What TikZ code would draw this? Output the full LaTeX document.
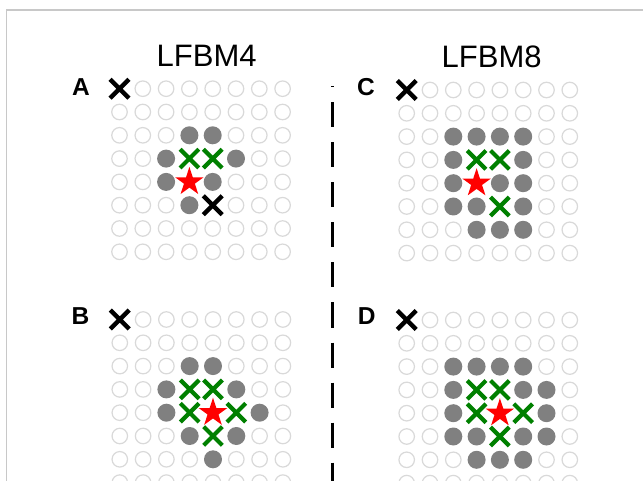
\documentclass[tikz,border=0pt]{standalone}
\usepackage{fontspec}
\setmainfont{Liberation Sans}
\usetikzlibrary{shapes.geometric,shapes.misc}
\definecolor{dotgray}{RGB}{128,128,128}
\definecolor{ringgray}{RGB}{217,217,217}
\definecolor{xgreen}{RGB}{0,128,0}
\definecolor{framegray}{RGB}{200,200,200}
\newcommand\setcells[3]{\foreach \rr/\cc in {#3}{\expandafter\xdef\csname cell-#1-\rr-\cc\endcsname{#2}}}
\newcommand\drawpanel[3]{%
  \foreach \row in {0,...,7}{%
    \foreach \col in {0,...,7}{%
      \ifcsname cell-#1-\row-\col\endcsname
        \edef\cellsty{\csname cell-#1-\row-\col\endcsname}%
      \else
        \def\cellsty{emptydot}%
      \fi
      \node[cellkind=\cellsty] (#1-\row-\col) at ({#2+\col*23.3},{#3+\row*23.3}) {};
    }}}
\setcells{A}{blackx}{0/0,5/4}
\setcells{A}{filldot}{2/3,2/4,3/2,3/5,4/2,4/4,5/3}
\setcells{A}{greenx}{3/3,3/4}
\setcells{A}{redstar}{4/3}
\setcells{B}{blackx}{0/0}
\setcells{B}{filldot}{2/3,2/4,3/2,3/5,4/2,4/6,5/3,5/5,6/4}
\setcells{B}{greenx}{3/3,3/4,4/3,4/5,5/4}
\setcells{B}{redstar}{4/4}
\setcells{C}{blackx}{0/0}
\setcells{C}{filldot}{2/2,2/3,2/4,2/5,3/2,3/5,4/2,4/4,4/5,5/2,5/3,5/5,6/3,6/4,6/5}
\setcells{C}{greenx}{3/3,3/4,5/4}
\setcells{C}{redstar}{4/3}
\setcells{D}{blackx}{0/0}
\setcells{D}{filldot}{2/2,2/3,2/4,2/5,3/2,3/5,3/6,4/2,4/6,5/2,5/3,5/5,5/6,6/3,6/4,6/5}
\setcells{D}{greenx}{3/3,3/4,4/3,4/5,5/4}
\setcells{D}{redstar}{4/4}
\tikzset{
  cellkind/.code={\edef\tmpkind{#1}\expandafter\pgfkeysalso\expandafter{\tmpkind}},
  emptydot/.style={circle, draw=ringgray, line width=1.2pt, minimum size=15.5pt, inner sep=0pt},
  filldot/.style={circle, fill=dotgray, minimum size=18pt, inner sep=0pt},
  blackx/.style={cross out, draw=black, line width=4.4pt, minimum size=14.5pt, inner sep=0pt},
  greenx/.style={cross out, draw=xgreen, line width=4.2pt, minimum size=14.5pt, inner sep=0pt},
  redstar/.style={star, star points=5, star point ratio=2.618, fill=red, minimum size=30pt, inner sep=0pt},
  titletext/.style={anchor=base, font=\fontsize{31}{31}\selectfont, inner sep=0pt},
  paneltag/.style={anchor=base, font=\bfseries\fontsize{24.5}{24.5}\selectfont, inner sep=0pt},
  divider/.style={line width=3pt, dash pattern=on 25pt off 15pt, dash phase=23.5pt},
  frameline/.style={draw=framegray, line width=1.5pt}
}
\begin{document}
\begin{tikzpicture}[x=1pt,y=-1pt]
\fill[white] (0,0) rectangle (643,481);
\useasboundingbox (0,0) rectangle (643,481);
\draw[frameline] (6.5,481) -- (6.5,10) -- (643,10);
\node[titletext] (t4) at (206.7,66.7) {LFBM4};
\node[titletext] (t8) at (491.7,67.5) {LFBM8};
\node[paneltag] (tagA) at (81,96) {A};
\node[paneltag] (tagB) at (80.5,324) {B};
\node[paneltag] (tagC) at (366,96) {C};
\node[paneltag] (tagD) at (366.7,324) {D};
\drawpanel{A}{119.5}{88.7}
\drawpanel{B}{119.8}{319.5}
\drawpanel{C}{406.7}{90}
\drawpanel{D}{406.7}{320}
\coordinate (divtop) at (332,86);
\coordinate (divbot) at (332,481);
\draw[divider] (divtop) -- (divbot);
\end{tikzpicture}
\end{document}
